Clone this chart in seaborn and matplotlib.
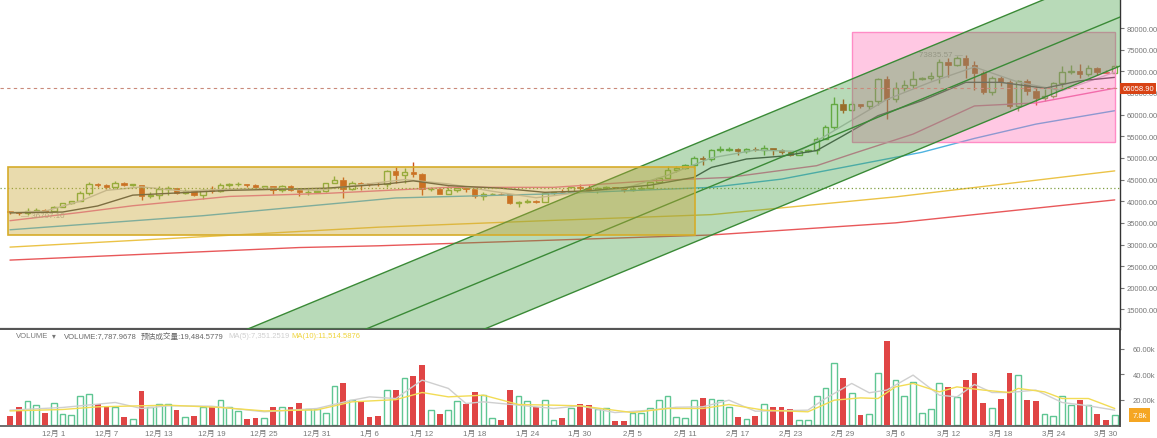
import matplotlib
matplotlib.use("Agg")
import matplotlib.pyplot as plt
import matplotlib.transforms as mtransforms
from matplotlib.patches import Rectangle
import numpy as np
import pandas as pd
import seaborn as sns

sns.set_theme(style="white")
plt.rcParams["font.family"] = ["Liberation Sans", "Noto Sans CJK SC", "DejaVu Sans"]

# ---- daily candles, 2023-11-26 .. 2024-03-31 ----
start_date = "2023-11-26"
opens = [37780, 37450, 37240, 37820, 37850, 37710, 38690, 39470, 39980, 41990,
         44080, 43770, 43290, 44170, 43720, 43790, 41240, 41490, 42890, 43020,
         41940, 42260, 41370, 42660, 42270, 43670, 43860, 43990, 43740, 43020,
         43580, 42520, 43440, 42580, 42070, 42140, 42280, 44180, 44960, 42850,
         44150, 44050, 43970, 43930, 46960, 46110, 46630, 46340, 42780, 42840,
         41730, 42510, 43140, 42770, 41260, 41620, 41660, 41560, 39500, 39850,
         40080, 39930, 41820, 42120, 42030, 43300, 42950, 42570, 43080, 43190,
         43000, 42580, 42710, 43090, 44340, 45290, 47130, 47750, 48290, 49950,
         49730, 51830, 51940, 52150, 51680, 52140, 51780, 52280, 51850, 51300,
         50730, 51570, 51730, 54480, 57040, 62430, 61130, 62390, 62030, 63140,
         68250, 63700, 66070, 66880, 68300, 68500, 69020, 72120, 71480, 73080,
         71390, 69500, 65300, 68390, 67550, 61930, 67840, 65500, 63800, 64260,
         67210, 69880, 69990, 69460, 70780, 69850, 69580]
highs = [37820, 37560, 38430, 38380, 38150, 38980, 39700, 40000, 42420, 44490,
         44300, 44050, 44700, 44360, 44040, 43810, 42100, 43430, 43420, 43080,
         42720, 42430, 42750, 43490, 44280, 44240, 44400, 44000, 43950, 43600,
         43600, 43680, 43800, 43120, 42900, 42900, 44180, 45880, 45500, 44730,
         44340, 44230, 44500, 47250, 47890, 47700, 48970, 46500, 43260, 43080,
         43400, 43580, 43200, 42930, 42200, 41870, 41880, 41650, 40130, 40550,
         40290, 42230, 42200, 42840, 43300, 43880, 43740, 43300, 43490, 43380,
         43120, 43540, 43400, 44370, 45600, 48200, 48170, 48590, 50330, 50370,
         52040, 52820, 52570, 52240, 52380, 52490, 52990, 52370, 52000, 51540,
         51700, 51960, 54940, 57590, 64000, 63680, 63110, 62430, 63230, 68500,
         69000, 67640, 67980, 69990, 68670, 69930, 72800, 73000, 73650, 73835.57,
         72360, 70000, 68900, 68930, 68100, 68100, 68240, 66650, 65970, 67620,
         71150, 71560, 71770, 71550, 70900, 70360, 71370]
lows = [37150, 36707, 36880, 37600, 37500, 37630, 38680, 39290, 39980, 41420,
        43340, 42820, 43080, 43580, 43570, 40220, 40680, 40560, 41400, 41670,
        41690, 41250, 40530, 41800, 42180, 43300, 43400, 43290, 42750, 42770,
        41620, 42100, 42300, 41300, 41520, 41970, 42180, 44150, 40750, 42630,
        42630, 43420, 43570, 43180, 44300, 44300, 45660, 41500, 42440, 41720,
        41720, 42050, 42200, 40680, 40280, 41500, 41440, 39430, 38560, 39500,
        39550, 39800, 41390, 41620, 41800, 42680, 42280, 41880, 42570, 42880,
        42220, 42260, 42560, 42790, 44330, 45250, 46800, 47540, 47700, 48300,
        49300, 51320, 51620, 50620, 51160, 51680, 50630, 50630, 50900, 50500,
        50580, 51300, 50900, 54450, 56690, 60360, 60780, 61600, 61320, 62300,
        59000, 62800, 65500, 66100, 68000, 68100, 67190, 68600, 71340, 68550,
        65630, 64780, 64500, 66600, 61500, 60760, 64530, 62260, 63070, 63800,
        66380, 69280, 68360, 68900, 69100, 69560, 69560]
closes = [37450, 37240, 37820, 37850, 37710, 38690, 39470, 39980, 41980, 44080,
          43770, 43290, 44170, 43720, 43790, 41240, 41490, 42890, 43020, 41940,
          42260, 41370, 42660, 42270, 43670, 43860, 43990, 43740, 43020, 43580,
          42520, 43440, 42580, 42070, 42140, 42280, 44180, 44950, 42850, 44150,
          44050, 43970, 43930, 46960, 46110, 46630, 46340, 42780, 42840, 41730,
          42510, 43140, 42770, 41260, 41620, 41660, 41560, 39500, 39850, 40080,
          39930, 41820, 42120, 42030, 43300, 42950, 42580, 43080, 43190, 43000,
          42580, 42710, 43090, 44340, 45290, 47130, 47750, 48290, 49950, 49730,
          51830, 51940, 52150, 51680, 52140, 51780, 52280, 51850, 51300, 50730,
          51570, 51730, 54480, 57040, 62430, 61130, 62390, 62030, 63140, 68250,
          63700, 66070, 66880, 68300, 68500, 69020, 72120, 71480, 73080, 71390,
          69500, 65300, 68390, 67550, 61930, 67840, 65500, 63800, 64260, 67210,
          69880, 69990, 69460, 70780, 69850, 69580, 71280]
volumes_k = [7.3, 14.4, 19.0, 15.7, 9.2, 17.5, 8.4, 7.8, 22.7, 24.8,
             17.0, 13.9, 14.4, 6.5, 5.0, 26.4, 14.4, 16.5, 16.5, 12.3,
             6.5, 7.6, 14.4, 14.4, 20.0, 13.9, 11.5, 5.2, 6.0, 5.7,
             13.9, 14.4, 14.4, 17.5, 12.8, 12.8, 9.2, 30.6, 33.2, 19.4,
             19.0, 6.5, 7.3, 27.2, 27.2, 37.0, 38.7, 47.0, 12.3, 9.1,
             12.3, 19.0, 17.0, 26.1, 23.5, 6.0, 4.4, 27.5, 22.7, 18.6,
             14.1, 20.1, 4.4, 5.8, 13.6, 17.0, 15.7, 12.8, 13.1, 3.1,
             3.7, 9.2, 9.2, 13.6, 19.9, 22.5, 6.5, 6.0, 19.4, 21.4,
             20.7, 19.4, 14.6, 6.5, 5.2, 7.3, 16.5, 14.1, 14.1, 12.8,
             4.2, 4.4, 22.7, 29.3, 48.6, 37.1, 25.4, 7.8, 8.4, 40.5,
             65.9, 35.3, 22.7, 34.0, 9.9, 12.8, 32.7, 30.0, 22.2, 35.0,
             40.8, 17.5, 13.6, 20.9, 40.8, 39.2, 19.4, 18.6, 8.4, 7.6,
             22.7, 16.2, 19.4, 15.9, 8.6, 4.2, 7.8]

# ---- indicator lines (day offset, value) ----
ma_dark_day = [0, 6, 10, 14, 25, 36, 43, 46, 50, 56, 61, 66, 73, 78, 80, 84, 88,
               92, 95, 99, 104, 109, 113, 118, 122, 126]
ma_dark_val = [37300, 37500, 38900, 41400, 42500, 43000, 44000, 44700, 43600,
               43000, 42050, 42400, 43700, 45500, 47800, 49750, 50400, 51700,
               55100, 59750, 63200, 67450, 67450, 66100, 67800, 68600]
ma_light_day = [0, 4, 8, 11, 15, 20, 25, 30, 35, 40, 45, 50, 55, 60, 65, 70, 75,
                80, 85, 90, 95, 100, 105, 110, 115, 120, 126]
ma_light_val = [37400, 37700, 40000, 42500, 43300, 42300, 42800, 43000, 42500,
                43800, 45000, 44000, 42300, 40800, 42000, 42900, 46000, 50000,
                51800, 51500, 57500, 63500, 67500, 71000, 67500, 65500, 69800]
ma_pink_day = [0, 8, 14, 25, 36, 50, 62, 73, 82, 92, 96, 103, 110, 117, 126]
ma_pink_val = [35500, 37400, 38950, 41100, 41800, 43200, 43200, 44700, 45500,
               48200, 50900, 55500, 62000, 62700, 66100]
ma_blue_day = [0, 22, 44, 61, 80, 88, 104, 110, 117, 126]
ma_blue_val = [33400, 36650, 40750, 41650, 43200, 45100, 51300, 54500, 57800, 60900]
ma_yellow_day = [0, 22, 42, 61, 80, 101, 126]
ma_yellow_val = [29400, 31800, 34000, 35500, 36900, 41000, 47000]
ma_red_day = [0, 33, 42, 80, 101, 126]
ma_red_val = [26400, 29300, 29700, 32200, 35000, 40300]

vol_ma5_day = [0, 6, 12, 15, 18, 23, 29, 35, 39, 41, 44, 47, 50, 52, 54, 56, 58,
               62, 65, 69, 73, 76, 79, 82, 85, 91, 93, 96, 98, 100, 103, 106,
               108, 110, 112, 114, 117, 120, 123, 126]
vol_ma5_val = [11.8, 13.9, 17.8, 13.1, 15.2, 14.9, 10.5, 13.1, 19.6, 22.2, 20.9,
               35.3, 28.8, 17.0, 18.3, 17.0, 15.7, 13.1, 15.2, 9.9, 11.8, 14.1,
               14.4, 19.6, 11.0, 11.8, 20.9, 32.7, 25.4, 27.5, 39.2, 23.5, 22.2,
               31.9, 25.6, 25.6, 27.5, 17.8, 15.2, 11.8]
vol_ma10_day = [0, 6, 10, 18, 24, 29, 35, 39, 44, 47, 50, 54, 58, 62, 65, 71, 75,
                79, 82, 86, 91, 94, 97, 99, 101, 103, 106, 108, 111, 114, 115,
                118, 120, 123, 126]
vol_ma10_val = [11.2, 12.3, 14.4, 15.7, 13.9, 11.2, 12.0, 18.3, 20.0, 25.6, 22.2,
                23.5, 16.2, 15.7, 15.2, 9.9, 13.1, 13.1, 16.2, 11.8, 10.5, 19.6,
                21.4, 20.9, 30.0, 32.7, 26.1, 30.0, 27.5, 25.6, 28.8, 26.1, 20.9,
                20.9, 13.1]

# ---- drawings ----
range_box = dict(day0=-0.2, day1=78.1, low=32300, high=47900)
pink_box = dict(day0=96.0, day1=126.0, low=53700, high=79000)
channel_mid_day = [60, 110]
channel_mid_price = [26718, 68618]
channel_half = 11313
last_price = 66058.90
level_line = 43150

UP = "#76b041"
DOWN = "#cc5018"
VOL_UP = "#5fc693"
VOL_DOWN = "#e04545"
FS = 5.5

n = len(closes)
dates = pd.date_range(start_date, periods=n, freq="D")
df = pd.DataFrame({"day": np.arange(n), "o": opens, "h": highs, "l": lows,
                   "c": closes, "v": volumes_k})
df["up"] = df["c"] >= df["o"]
df["top"] = df[["o", "c"]].max(axis=1)
df["bot"] = df[["o", "c"]].min(axis=1)

W, H = 1157, 439
fig = plt.figure(figsize=(W / 100, H / 100), dpi=100)
ax = fig.add_axes([0, 109 / H, 1120 / W, 330 / H])
axv = fig.add_axes([0, 12 / H, 1120 / W, 96 / H], sharex=ax)

# candles
for is_up, col in [(True, UP), (False, DOWN)]:
    s = df[df["up"] == is_up]
    ax.vlines(s["day"], s["top"], s["h"], color=col, lw=1, zorder=2)
    ax.vlines(s["day"], s["l"], s["bot"], color=col, lw=1, zorder=2)
    body = (s["top"] - s["bot"]).clip(lower=150)
    if is_up:
        ax.bar(s["day"], body, bottom=s["bot"], width=0.62, facecolor="none",
               edgecolor=col, lw=1, zorder=2)
    else:
        ax.bar(s["day"], body, bottom=s["bot"], width=0.62, color=col,
               edgecolor=col, lw=0.5, zorder=2)

# moving averages
for d, v, col in [(ma_red_day, ma_red_val, "#e8585a"),
                  (ma_yellow_day, ma_yellow_val, "#ebc347"),
                  (ma_blue_day, ma_blue_val, "#4fb3e0"),
                  (ma_pink_day, ma_pink_val, "#ec6fa6"),
                  (ma_light_day, ma_light_val, "#c4c4c4"),
                  (ma_dark_day, ma_dark_val, "#4a4a4a")]:
    sns.lineplot(x=d, y=v, ax=ax, color=col, lw=1, zorder=3)

ax.axhline(level_line, color="#7f9f40", ls=(0, (1, 2)), lw=0.9, zorder=3)

ax.text(108.7, highs[109], "73835.57 \u2014", ha="right", va="center",
        fontsize=FS + 0.3, color="#a8a8a8", zorder=3)
ax.text(1.3, lows[1], "\u2014 36707.10", ha="left", va="center",
        fontsize=FS + 0.3, color="#a8a8a8", zorder=3)

# drawings
pw = pink_box["day1"] - pink_box["day0"]
ph = pink_box["high"] - pink_box["low"]
ax.add_patch(Rectangle((pink_box["day0"], pink_box["low"]), pw, ph,
                       facecolor="#ff69b4", alpha=0.36, edgecolor="none", zorder=4))
ax.add_patch(Rectangle((pink_box["day0"], pink_box["low"]), pw, ph,
                       facecolor="none", edgecolor="#ff8cc6", lw=1, zorder=4))

slope = (channel_mid_price[1] - channel_mid_price[0]) / (channel_mid_day[1] - channel_mid_day[0])
xs = np.array([-5.0, 135.0])
mid = channel_mid_price[0] + (xs - channel_mid_day[0]) * slope
ax.fill_between(xs, mid - channel_half, mid + channel_half, color="#46a046",
                alpha=0.38, lw=0, zorder=5)
for off in (-channel_half, 0, channel_half):
    ax.plot(xs, mid + off, color="#3a8a36", lw=1, zorder=5)

rw = range_box["day1"] - range_box["day0"]
rh = range_box["high"] - range_box["low"]
ax.add_patch(Rectangle((range_box["day0"], range_box["low"]), rw, rh,
                       facecolor="#c9a534", alpha=0.4, edgecolor="none", zorder=6))
ax.add_patch(Rectangle((range_box["day0"], range_box["low"]), rw, rh,
                       facecolor="none", edgecolor="#d6ac2a", lw=1.2, zorder=6))

ax.axhline(last_price, color="#c98a7a", ls=(0, (3, 3)), lw=0.8, zorder=7)

# price axis
ax.set_xlim(-1.14, 126.6)
ax.set_ylim(10485, 86700)
ax.yaxis.tick_right()
ax.set_yticks(np.arange(15000, 80001, 5000))
ax.yaxis.set_major_formatter(lambda v, p: f"{v:.2f}")
ax.tick_params(axis="y", which="both", right=True, length=3, width=0.8,
               color="#777777", labelsize=FS, labelcolor="#777777", pad=2)
ax.tick_params(axis="x", bottom=False, labelbottom=False)
for side in ["top", "left"]:
    ax.spines[side].set_visible(False)
ax.spines["right"].set_color("#333333")
ax.spines["right"].set_linewidth(1.0)
ax.spines["bottom"].set_color("#555555")
ax.spines["bottom"].set_linewidth(1.6)
ax.set_xlabel("")
ax.set_ylabel("")

tr = mtransforms.blended_transform_factory(ax.transAxes, ax.transData)
ax.text(1.002, last_price, "66058.90", transform=tr, ha="left", va="center",
        fontsize=FS, color="white", zorder=20, clip_on=False,
        bbox=dict(boxstyle="square,pad=0.3", fc="#d84315", ec="none"))

# volume
for is_up in (True, False):
    s = df[df["up"] == is_up]
    if is_up:
        axv.bar(s["day"], s["v"], width=0.66, facecolor="none",
                edgecolor=VOL_UP, lw=1.0, zorder=2)
    else:
        axv.bar(s["day"], s["v"], width=0.66, color=VOL_DOWN, lw=0, zorder=2)
sns.lineplot(x=vol_ma5_day, y=vol_ma5_val, ax=axv, color="#cfcfcf", lw=1, zorder=3)
sns.lineplot(x=vol_ma10_day, y=vol_ma10_val, ax=axv, color="#f2dc55", lw=1, zorder=3)

axv.set_ylim(-0.6, 74.5)
axv.yaxis.tick_right()
axv.set_yticks([20, 40, 60])
axv.yaxis.set_major_formatter(lambda v, p: f"{v:.2f}k")
axv.tick_params(axis="y", right=True, length=3, width=0.8, color="#777777",
                labelsize=FS, labelcolor="#777777", pad=6)
axv.tick_params(axis="x", bottom=False, labelbottom=False)
for side in ["top", "left"]:
    axv.spines[side].set_visible(False)
axv.spines["right"].set_color("#333333")
axv.spines["bottom"].set_color("#555555")
axv.spines["bottom"].set_linewidth(1.2)
axv.set_xlabel("")
axv.set_ylabel("")

# date labels under the volume pane
tick_days = list(range(5, n, 6))
trx = mtransforms.blended_transform_factory(axv.transData, fig.transFigure)
for i in tick_days:
    axv.text(i, 1 - 434 / H, f"{dates[i].month}月 {dates[i].day}", transform=trx,
             ha="center", va="center", fontsize=FS + 0.2, color="#777777",
             clip_on=False)

trv = mtransforms.blended_transform_factory(axv.transAxes, axv.transData)
axv.text(1.0175, volumes_k[-1], "7.8k", transform=trv, ha="center", va="center",
         fontsize=FS, color="white", zorder=20, clip_on=False,
         bbox=dict(boxstyle="square,pad=0.45", fc="#f5a623", ec="none"))

# volume legend row
hy = 1 - 337 / H
for x, txt, col in [(16, "VOLUME", "#777777"), (52, "\u25be", "#777777"),
                    (64, "VOLUME:7,787.9678", "#666666"),
                    (141, "预估成交量:19,484.5779", "#666666"),
                    (228, "MA(5):7,351.2519", "#cfcfcf"),
                    (291, "MA(10):11,514.5876", "#efd43c")]:
    fig.text(x / W, hy, txt, ha="left", va="center", fontsize=FS, color=col)

fig.savefig("out.png", dpi=100)
